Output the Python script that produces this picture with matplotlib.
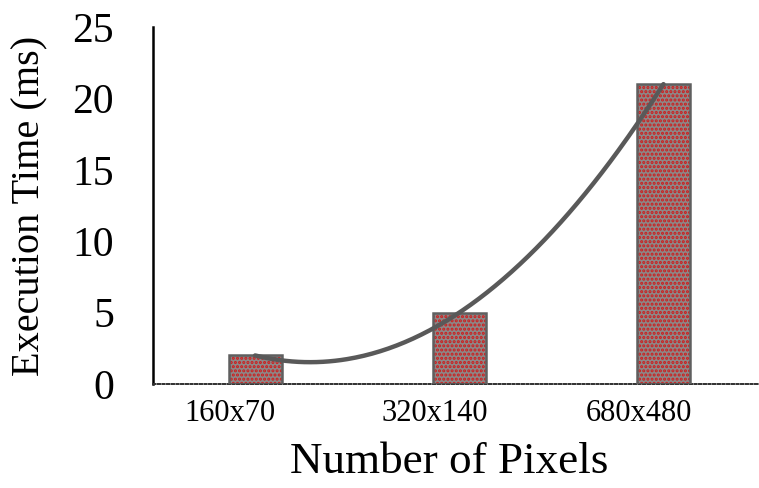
import matplotlib
matplotlib.use("Agg")
import matplotlib.pyplot as plt
import matplotlib.transforms as mtrans
import numpy as np

categories = ["160x70", "320x140", "680x480"]
exec_time = [2, 5, 21]

plt.rcParams['font.family'] = ['Liberation Serif', 'DejaVu Serif']
plt.rcParams['hatch.linewidth'] = 1.5

fig = plt.figure(figsize=(7.59, 4.88), dpi=100)
ax = fig.add_axes([0.2016, 0.2131, 0.807, 0.7316])

x = np.arange(len(categories))
# dotted red fill, then grey outline on top
ax.bar(x, exec_time, width=0.26, color="#8c8888", edgecolor="#d01a1a",
       hatch="....", linewidth=0, zorder=2)
ax.bar(x, exec_time, width=0.26, fill=False, edgecolor="#5f5f5f",
       linewidth=1.8, zorder=3)

# order-2 polynomial trendline like Excel
coef = np.polyfit(x, exec_time, 2)
xs = np.linspace(x[0], x[-1], 200)
ax.plot(xs, np.polyval(coef, xs), color="#595959", linewidth=3.2,
        solid_capstyle="round", zorder=4)

ax.set_xlim(-0.5, 2.5)
ax.set_ylim(0, 25)
ax.set_yticks([0, 5, 10, 15, 20, 25])
ax.set_xticks(x)
ax.set_xticklabels(categories, fontsize=22)
ax.tick_params(axis="y", labelsize=30, length=0, pad=28)
ax.tick_params(axis="x", length=0, pad=11)

# category labels sit a little left of the bars in the original
shift = mtrans.ScaledTranslation(-0.25, 0, fig.dpi_scale_trans)
for lbl in ax.get_xticklabels():
    lbl.set_transform(lbl.get_transform() + shift)

for s in ["top", "right"]:
    ax.spines[s].set_visible(False)
ax.spines["left"].set_color("black")
ax.spines["left"].set_linewidth(1.8)
ax.spines["bottom"].set_linestyle((0, (1.2, 1.2)))
ax.spines["bottom"].set_color("#303030")
ax.spines["bottom"].set_linewidth(1.4)

ax.set_ylabel("Execution Time (ms)", fontsize=29, labelpad=17)
ax.set_xlabel("Number of Pixels", fontsize=32.5)
ax.xaxis.set_label_coords(0.483, -0.163)

fig.savefig("out.png", dpi=100)
